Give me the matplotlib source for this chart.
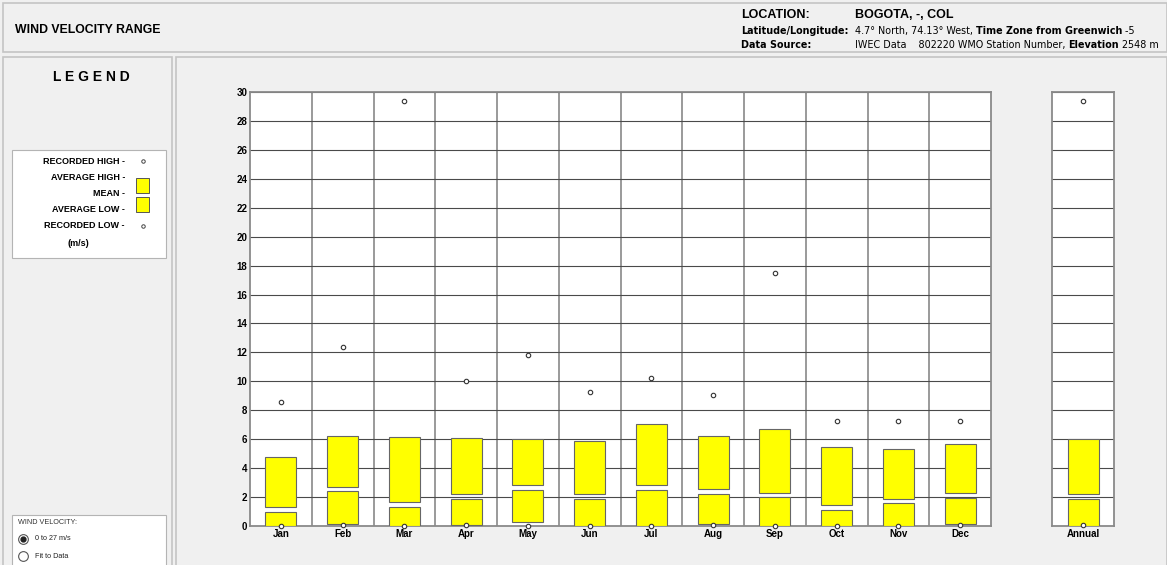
import matplotlib
matplotlib.use("Agg")
import matplotlib.pyplot as plt
from matplotlib.patches import Rectangle

plt.rcParams["font.family"] = ["Liberation Sans", "DejaVu Sans"]

# data (m/s)
months = ["Jan", "Feb", "Mar", "Apr", "May", "Jun", "Jul", "Aug", "Sep", "Oct", "Nov", "Dec"]
rec_high = [8.6, 12.35, 29.35, 10.0, 11.8, 9.25, 10.2, 9.05, 17.5, 7.25, 7.25, 7.25]
avg_high = [4.75, 6.22, 6.17, 6.08, 5.99, 5.87, 7.05, 6.24, 6.73, 5.44, 5.32, 5.69]
mean = [1.16, 2.57, 1.47, 2.04, 2.66, 2.04, 2.64, 2.40, 2.15, 1.28, 1.74, 2.12]
avg_low = [0.0, 0.14, 0.0, 0.07, 0.3, 0.0, 0.0, 0.14, 0.0, 0.0, 0.0, 0.14]
rec_low = [0.0, 0.05, 0.0, 0.05, 0.0, 0.0, 0.0, 0.1, 0.0, 0.0, 0.0, 0.1]

annual_label = ["Annual"]
annual_rec_high = [29.35]
annual_avg_high = [5.99]
annual_mean = [2.03]
annual_avg_low = [0.0]
annual_rec_low = [0.05]

yticks = list(range(0, 31, 2))

BG = "#f0f0f0"
YEL = "#ffff00"
W, H = 1167, 565


def fx(px):
    return px / W


def fy(py):
    return 1 - py / H


fig = plt.figure(figsize=(W / 100, H / 100), dpi=100)
fig.patch.set_facecolor(BG)
renderer = fig.canvas.get_renderer()


# panel frames (behind the axes)
def frame(x0, y0, x1, y1, fc=BG, ec="#c4c4c4", lw=1.2):
    fig.patches.append(Rectangle((fx(x0), fy(y1)), fx(x1 - x0), (y1 - y0) / H,
                                 transform=fig.transFigure, fc=fc, ec=ec, lw=lw, zorder=-5))

frame(3, 3, 1167, 52)
frame(3, 57, 172, 566)
frame(176, 57, 1167, 566)
frame(12, 150, 166, 258, fc="white", ec="#b4b4b4", lw=0.8)
frame(12, 515, 166, 566, fc="white", ec="#b4b4b4", lw=0.8)


def line_of_runs(x, y, parts, size=6.9):
    # pieces of text in one line, some bold, placed one after the other
    px = x
    for s, bold in parts:
        t = fig.text(fx(px), fy(y), s, fontsize=size, family="DejaVu Sans",
                     fontweight="bold" if bold else "normal", va="baseline")
        px = t.get_window_extent(renderer).x1


# header text
fig.text(fx(15), fy(30), "WIND VELOCITY RANGE", fontsize=8.8, fontweight="bold", va="center")
fig.text(fx(741), fy(15), "LOCATION:", fontsize=9, fontweight="bold", va="center")
fig.text(fx(855), fy(15), "BOGOTA, -, COL", fontsize=9, fontweight="bold", va="center")
line_of_runs(741, 34, [("Latitude/Longitude:", True)])
line_of_runs(855, 34, [("4.7° North, 74.13° West, ", False),
                       ("Time Zone from Greenwich", True), (" -5", False)])
line_of_runs(741, 48, [("Data Source:", True)])
line_of_runs(855, 48, [("IWEC Data    802220 WMO Station Number, ", False),
                       ("Elevation", True), (" 2548 m", False)])

# left legend panel
fig.text(fx(91), fy(77), "L E G E N D", fontsize=10, fontweight="bold", ha="center", va="center")
leg_rows = [("RECORDED HIGH -", 161), ("AVERAGE HIGH -", 177), ("MEAN -", 194),
            ("AVERAGE LOW -", 210), ("RECORDED LOW -", 226)]
for s, yy in leg_rows:
    fig.text(fx(125), fy(yy), s, fontsize=6.5, fontweight="bold", ha="right", va="center")
fig.text(fx(78), fy(243), "(m/s)", fontsize=6.5, fontweight="bold", ha="center", va="center")
lax = fig.add_axes([0, 0, 1, 1], facecolor="none")
lax.set_xlim(0, W)
lax.set_ylim(H, 0)
lax.axis("off")
lax.add_patch(Rectangle((136, 178), 13, 15, fc=YEL, ec="#555555", lw=0.7))
lax.add_patch(Rectangle((136, 197), 13, 15, fc=YEL, ec="#555555", lw=0.7))
lax.plot([143, 143], [161, 226], "o", ls="none", ms=2.5, mfc="white", mec="#444444", mew=0.7)

# wind velocity box
fig.text(fx(18), fy(522), "WIND VELOCITY:", fontsize=5.2, color="#333333", va="center")
lax.plot([23], [539], "o", ms=7, mfc="white", mec="#555555", mew=0.8)
lax.plot([23], [539], "o", ms=3.5, mfc="#222222", mec="#222222")
lax.plot([23], [556], "o", ms=7, mfc="white", mec="#555555", mew=0.8)
fig.text(fx(35), fy(539), "0 to 27 m/s", fontsize=5.2, color="#222222", va="center")
fig.text(fx(35), fy(556), "Fit to Data", fontsize=5.2, color="#222222", va="center")

GAP = 0.16
BW = 0.5


def draw_boxes(ax, n, hi, mn, lo, rh, rl):
    for i in range(n):
        x0 = i + 0.5 - BW / 2
        ax.add_patch(Rectangle((x0, lo[i]), BW, mn[i] - GAP - lo[i],
                               fc=YEL, ec="#666666", lw=0.8, zorder=3))
        ax.add_patch(Rectangle((x0, mn[i] + GAP), BW, hi[i] - mn[i] - GAP,
                               fc=YEL, ec="#666666", lw=0.8, zorder=3))
    xs = [i + 0.5 for i in range(n)]
    ax.plot(xs, rh, "o", ls="none", ms=3.2, mfc="white", mec="#333333", mew=0.8, zorder=4,
            clip_on=False)
    ax.plot(xs, rl, "o", ls="none", ms=3.2, mfc="white", mec="#333333", mew=0.8, zorder=4,
            clip_on=False)


def style(ax, n, labels):
    ax.set_facecolor("white")
    ax.set_xlim(0, n)
    ax.set_ylim(0, 30)
    ax.set_xticks([i + 0.5 for i in range(n)])
    ax.set_xticklabels(labels, fontsize=7, fontweight="bold")
    ax.set_xticks(range(1, n), minor=True)
    ax.set_yticks(yticks)
    ax.grid(True, axis="y", which="major", color="#4a4a4a", lw=0.8, zorder=1)
    ax.grid(True, axis="x", which="minor", color="#9a9a9a", lw=1.4, zorder=1)
    ax.tick_params(axis="both", which="both", length=0, pad=2)
    ax.set_axisbelow(True)
    for sp in ax.spines.values():
        sp.set_color("#8a8a8a")
        sp.set_linewidth(1.3)


bottom = (H - 526) / H
height = 434 / H
ax = fig.add_axes([fx(250), bottom, fx(741), height])
style(ax, 12, months)
ax.set_yticklabels([str(v) for v in yticks], fontsize=7, fontweight="bold")
draw_boxes(ax, 12, avg_high, mean, avg_low, rec_high, rec_low)

ax2 = fig.add_axes([fx(1052), bottom, fx(62), height])
style(ax2, 1, annual_label)
ax2.set_yticklabels([])
draw_boxes(ax2, 1, annual_avg_high, annual_mean, annual_avg_low, annual_rec_high, annual_rec_low)

fig.savefig("out.png", dpi=100, facecolor=BG)
